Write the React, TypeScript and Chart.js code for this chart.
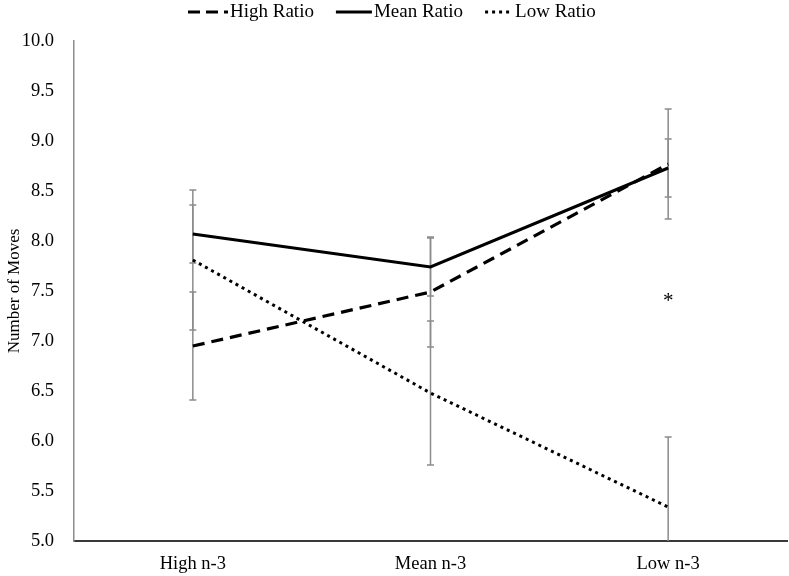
import React, { useEffect, useRef } from 'react';
import { Chart, registerables } from 'chart.js';

Chart.register(...registerables);

const categories = ['High n-3', 'Mean n-3', 'Low n-3'];
const seriesNames = ['High Ratio', 'Mean Ratio', 'Low Ratio'];
const highRatio = [6.95, 7.49, 8.77];
const meanRatio = [8.07, 7.74, 8.73];
const lowRatio = [7.81, 6.48, 5.34];
const highErr = [0.54, 0.55, 0.55];
const meanErr = [0.29, 0.29, 0.29];
const lowErr = [0.7, 0.72, 0.7];
const yMin = 5;
const yMax = 10;
const yStep = 0.5;
const yTitle = 'Number of Moves';
const markerCategory = 'Low n-3';
const markerValue = 7.43;
const markerText = '*';

const FONT = "'Liberation Serif', 'Times New Roman', serif";
const dashes: number[][] = [[12, 7], [], [3, 4]];
const widths = [3.2, 3, 3];

export default function App() {
  const ref = useRef<HTMLCanvasElement | null>(null);

  useEffect(() => {
    document.body.style.margin = '0';
    const canvas = ref.current;
    if (!canvas) return;

    const errs = [highErr, meanErr, lowErr];

    const errorBars = {
      id: 'errorBars',
      beforeDatasetsDraw(chart: any) {
        const ctx = chart.ctx;
        const xs = chart.scales.x;
        const ys = chart.scales.y;
        const area = chart.chartArea;
        ctx.save();
        ctx.beginPath();
        ctx.rect(area.left, area.top - 2, area.right - area.left, area.bottom - area.top + 2);
        ctx.clip();
        ctx.strokeStyle = '#8c8c8c';
        ctx.lineWidth = 1.5;
        chart.data.datasets.forEach((ds: any, di: number) => {
          ds.data.forEach((v: number, i: number) => {
            const e = errs[di][i];
            const x = xs.getPixelForValue(i);
            const y1 = ys.getPixelForValue(v + e);
            const y2 = ys.getPixelForValue(v - e);
            ctx.beginPath();
            ctx.moveTo(x, y1);
            ctx.lineTo(x, y2);
            ctx.moveTo(x - 3.5, y1);
            ctx.lineTo(x + 3.5, y1);
            ctx.moveTo(x - 3.5, y2);
            ctx.lineTo(x + 3.5, y2);
            ctx.stroke();
          });
        });
        ctx.restore();
      },
    };

    const extras = {
      id: 'extras',
      afterDraw(chart: any) {
        const ctx = chart.ctx;
        const xs = chart.scales.x;
        const ys = chart.scales.y;
        ctx.save();
        // asterisk
        ctx.fillStyle = '#000';
        ctx.font = `21px ${FONT}`;
        ctx.textAlign = 'center';
        ctx.textBaseline = 'middle';
        ctx.fillText(markerText, xs.getPixelForValue(categories.indexOf(markerCategory)), ys.getPixelForValue(markerValue) + 3);
        // legend
        ctx.font = `19px ${FONT}`;
        ctx.textAlign = 'left';
        ctx.textBaseline = 'middle';
        let x = 188;
        const y = 12;
        const lineLens = [40, 36, 28];
        seriesNames.forEach((name, i) => {
          ctx.beginPath();
          ctx.setLineDash(i === 0 ? [12, 6] : dashes[i]);
          ctx.lineWidth = widths[i];
          ctx.strokeStyle = '#000';
          ctx.moveTo(x, y);
          ctx.lineTo(x + lineLens[i], y);
          ctx.stroke();
          ctx.setLineDash([]);
          x += lineLens[i] + 2;
          ctx.fillText(name, x, y);
          x += ctx.measureText(name).width + 22;
        });
        ctx.restore();
      },
    };

    const chart = new Chart(canvas, {
      type: 'line',
      data: {
        labels: categories,
        datasets: [highRatio, meanRatio, lowRatio].map((d, i) => ({
          label: seriesNames[i],
          data: d,
          borderColor: '#000',
          backgroundColor: '#000',
          borderWidth: widths[i],
          borderDash: dashes[i],
          pointRadius: 0,
          tension: 0,
          fill: false,
        })),
      },
      options: {
        animation: false,
        responsive: false,
        maintainAspectRatio: false,
        layout: { padding: { top: 41, right: 2, left: 0, bottom: 0 } },
        plugins: {
          legend: { display: false },
          tooltip: { enabled: false },
        },
        scales: {
          x: {
            offset: true,
            grid: { display: false },
            border: { display: true, color: '#3a3a3a', width: 2 },
            ticks: { color: '#000', font: { family: FONT, size: 18.5 }, padding: 4 },
            afterFit: (s: any) => {
              s.height = 35;
            },
          },
          y: {
            min: yMin,
            max: yMax,
            grid: { display: false },
            border: { display: true, color: '#8c8c8c', width: 1.5 },
            ticks: {
              stepSize: yStep,
              color: '#000',
              font: { family: FONT, size: 18.5 },
              padding: 12,
              callback: (v: any) => Number(v).toFixed(1),
            },
            title: {
              display: true,
              text: yTitle,
              color: '#000',
              font: { family: FONT, size: 17 },
              padding: { top: 4, bottom: 4 },
            },
            afterFit: (s: any) => {
              s.width = 74;
            },
          },
        },
      },
      plugins: [errorBars, extras],
    });

    return () => chart.destroy();
  }, []);

  return (
    <div style={{ width: 789, height: 576 }}>
      <canvas ref={ref} width={789} height={576} style={{ width: 789, height: 576, display: 'block' }} />
    </div>
  );
}
